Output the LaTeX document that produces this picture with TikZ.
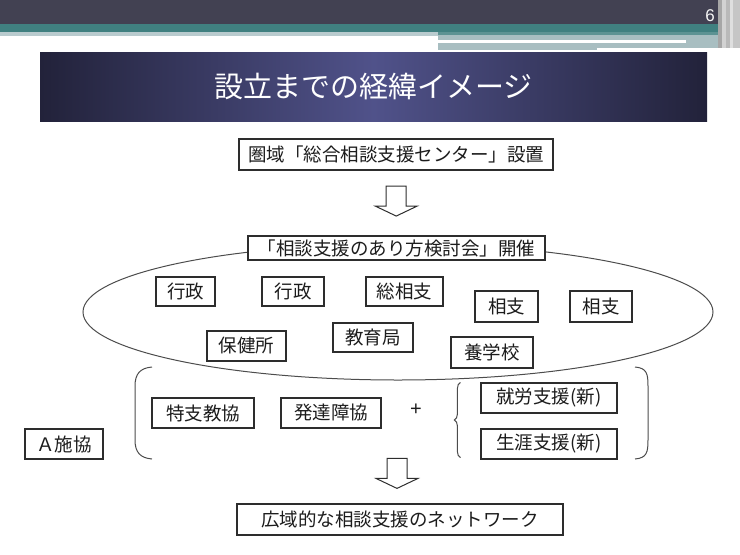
\documentclass[tikz,border=0pt]{standalone}
\usepackage{fontspec}
\newfontfamily\jpfont{Noto Sans CJK JP}
\newfontfamily\numfont{Liberation Sans}
\usepackage{tikz}
\usetikzlibrary{calc, decorations.pathreplacing}
\definecolor{barcolor}{RGB}{66, 65, 82}
\definecolor{tealcolor}{RGB}{64, 128, 128}
\definecolor{stripcolor}{RGB}{168, 190, 193}
\definecolor{titleedge}{RGB}{34, 34, 58}
\definecolor{titlemid}{RGB}{80, 82, 138}
\definecolor{linecolor}{RGB}{45, 45, 45}
\definecolor{textcolor}{RGB}{28, 28, 28}

\tikzset{
    kbox/.style={draw=linecolor, line width=1.2pt, fill=white, text=textcolor, inner sep=0pt,
        minimum height=30pt, font=\jpfont\fontsize{18.5}{18.5}\selectfont},
    hollowdown/.pic={
        \draw[linecolor, line width=1pt, fill=white, line join=miter]
            (-10,-15) -- (10,-15) -- (10,5) -- (21,5) -- (0,15) -- (-21,5) -- (-10,5) -- cycle;
    }
}

\begin{document}
\begin{tikzpicture}[x=1pt, y=-1pt]
    \useasboundingbox (0,0) rectangle (740,555);
    % slide header
    \fill[barcolor] (0,0) rectangle (720,24);
    \fill[tealcolor] (0,24) rectangle (720,32);
    \fill[stripcolor!80!white] (0,32) rectangle (438,35.5);
    \fill[tealcolor!85!white] (438,32) rectangle (720,35);
    \fill[stripcolor] (438,35) rectangle (720,50);
    \fill[white] (438,40) rectangle (686,42.5);
    \fill[white] (597,48) rectangle (720,50);
    \fill[gray!70] (718,0) rectangle (722,48);
    \fill[gray!35] (722,0) rectangle (726,48);
    \fill[gray!55] (726,0) rectangle (730,48);
    \fill[gray!25] (730,0) rectangle (733,48);
    \fill[gray!45] (733,0) rectangle (740,48);
    \node (pageno) [text=white!92!gray, inner sep=0pt, font=\numfont\fontsize{17}{17}\selectfont] at (710,15.5) {6};
    % title
    \node (title) [left color=titleedge, right color=titleedge, middle color=titlemid, minimum width=667pt,
        minimum height=69pt, inner sep=0pt, text=white, font=\jpfont\fontsize{29}{29}\selectfont] at (373.5,86.5) {設立までの経緯イメージ};

    \draw[linecolor!85!white, line width=1pt] (398,312) ellipse [x radius=315, y radius=68];

    \node (setchi) [kbox, minimum width=314pt, minimum height=31pt] at (396,154.5) {圏域「総合相談支援センター」設置};
    \node (kentokai) [kbox, minimum width=297pt, minimum height=24pt] at (396.5,248) {「相談支援のあり方検討会」開催};

    \node (gyosei1) [kbox, minimum width=59pt, minimum height=29pt] at (185.5,291.5) {行政};
    \node (gyosei2) [kbox, minimum width=62pt, minimum height=29pt] at (293,291.5) {行政};
    \node (sousoushi) [kbox, minimum width=77pt, minimum height=29pt] at (404.5,291.5) {総相支};
    \node (soushi1) [kbox, minimum width=63pt, minimum height=31pt] at (506.5,306.5) {相支};
    \node (soushi2) [kbox, minimum width=62pt, minimum height=31pt] at (601,306.5) {相支};
    \node (hokenjo) [kbox, minimum width=79pt] at (246.5,346) {保健所};
    \node (kyouiku) [kbox, minimum width=80pt, minimum height=29pt] at (373,337.5) {教育局};
    \node (yougakkou) [kbox, minimum width=82pt, minimum height=31pt] at (492,352.5) {養学校};

    % big brackets
    \draw[linecolor!85!white, line width=1pt] (152,367) .. controls (140,368) and (135,374) .. (135,386)
        -- (135,440) .. controls (135,452) and (140,458) .. (152,459);
    \draw[linecolor!85!white, line width=1pt] (635,367) .. controls (647,368) and (648,374) .. (648,386)
        -- (648,440) .. controls (648,452) and (647,458) .. (635,459);

    \node (ashikyo) [kbox, minimum width=78pt] at (64,444) {Ａ施協};
    \node (tokushi) [kbox, minimum width=102pt] at (203,413) {特支教協};
    \node (hattatsu) [kbox, minimum width=100pt] at (331,413) {発達障協};
    \node (plus) [text=textcolor, inner sep=0pt, font=\numfont\fontsize{20}{20}\selectfont] at (416,410) {+};
    \node (shurou) [kbox, minimum width=136pt] at (549,398) {就労支援(新)};
    \node (shougai) [kbox, minimum width=136pt] at (549,444) {生涯支援(新)};
    \draw[linecolor!85!white, line width=1pt, decorate, decoration={brace, amplitude=6pt}]
        ($(shougai.south west)+(-20,-2)$) -- ($(shurou.north west)+(-20,0)$);

    \node (netwk) [kbox, minimum width=326pt, minimum height=31pt] at (400,519.5) {広域的な相談支援のネットワーク};

    % block arrows
    \coordinate (arr1) at ($(setchi.south)!0.47!(kentokai.north)$);
    \coordinate (arr2) at ($(netwk.north)+(-3,-30)$);
    \pic at (arr1) {hollowdown};
    \pic at (arr2) {hollowdown};
\end{tikzpicture}
\end{document}
